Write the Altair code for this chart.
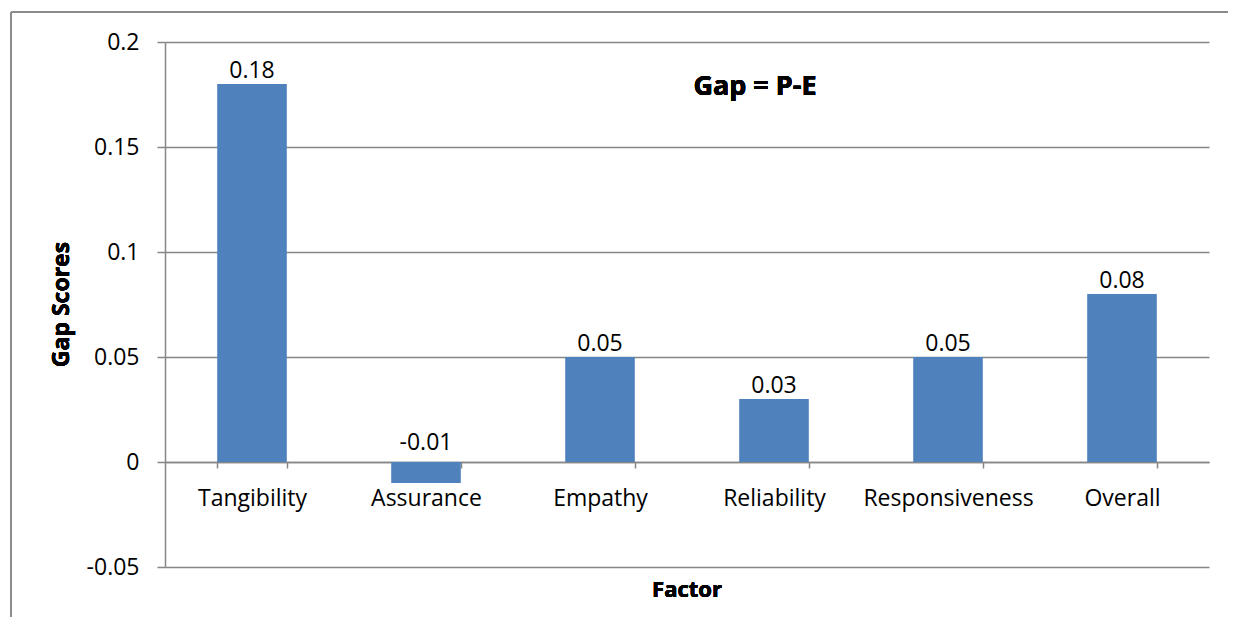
import altair as alt
import pandas as pd

factors = ["Tangibility", "Assurance", "Empathy", "Reliability", "Responsiveness", "Overall"]
gaps = [0.18, -0.01, 0.05, 0.03, 0.05, 0.08]
labels = ["0.18", "-0.01", "0.05", "0.03", "0.05", "0.08"]
y_ticks = [-0.05, 0, 0.05, 0.1, 0.15, 0.2]

df = pd.DataFrame({"Factor": factors, "Gap": gaps, "Label": labels})

W, H = 1044, 525
FONT = "Open Sans"
GRID = "#868686"
BAR = "#4F81BD"
FS = 23

x_enc = alt.X(
    "Factor:N",
    sort=factors,
    scale=alt.Scale(paddingInner=0.6, paddingOuter=0.3),
    axis=alt.Axis(
        title=None, orient="bottom", offset=-105, labelAngle=0,
        domainColor=GRID, domainWidth=1.5, tickColor=GRID, tickWidth=1.5,
        tickSize=6, tickBand="extent", labelPadding=19,
        labelFont=FONT, labelFontSize=FS, labelColor="#000000", grid=False,
    ),
)
y_scale = alt.Scale(domain=[-0.05, 0.2], nice=False, zero=False)

bars = alt.Chart(df).mark_bar(color=BAR).encode(
    x=x_enc,
    y=alt.Y(
        "Gap:Q", scale=y_scale,
        axis=alt.Axis(
            title=None, values=y_ticks, labelExpr="'' + datum.value",
            grid=True, gridColor=GRID, gridWidth=1.5,
            domainColor=GRID, domainWidth=1.5, tickColor=GRID, tickWidth=1.5,
            tickSize=8, labelPadding=18, labelFont=FONT, labelFontSize=FS,
            labelColor="#000000",
        ),
    ),
)

text_pos = alt.Chart(df).transform_filter("datum.Gap >= 0").mark_text(
    font=FONT, fontSize=FS, baseline="alphabetic", dy=-6, color="#000000"
).encode(
    x=alt.X("Factor:N", sort=factors),
    y=alt.Y("Gap:Q", scale=y_scale),
    text="Label:N",
)
text_neg = alt.Chart(df).transform_filter("datum.Gap < 0").transform_calculate(
    zero="0"
).mark_text(
    font=FONT, fontSize=FS, baseline="alphabetic", dy=-12, color="#000000"
).encode(
    x=alt.X("Factor:N", sort=factors),
    y=alt.Y("zero:Q", scale=y_scale),
    text="Label:N",
)

frame_left = alt.Chart(df).mark_rule(color="#8a8a8a", strokeWidth=1).encode(
    x=alt.value(-154), y=alt.value(-30), y2=alt.value(700)
)
frame_top = alt.Chart(df).mark_rule(color="#8a8a8a", strokeWidth=1).encode(
    x=alt.value(-154), x2=alt.value(1063), y=alt.value(-30)
)

annot = alt.Chart(df).mark_text(font=FONT, fontSize=27, fontWeight="bold", color="#000000").encode(
    x=alt.value(755 - 165), y=alt.value(87 - 42), text=alt.value("Gap = P-E")
)

xtitle = alt.Chart(df).mark_text(font=FONT, fontSize=22, fontWeight="bold", color="#000000").encode(
    x=alt.value(687 - 165), y=alt.value(590 - 42), text=alt.value("Factor")
)

ytitle = alt.Chart(df).mark_text(font=FONT, fontSize=23, fontWeight="bold", angle=270, color="#000000").encode(
    x=alt.value(62 - 165), y=alt.value(H / 2), text=alt.value("Gap Scores")
)

chart = alt.layer(frame_left, frame_top, bars, text_pos, text_neg, annot, xtitle, ytitle).properties(
    width=W, height=H,
    autosize=alt.AutoSizeParams(type="none"),
    padding={"left": 157, "top": 34, "right": 19, "bottom": 50},
).configure_view(stroke=None)

chart.save("out.html", embed_options={"renderer": "svg", "actions": False})
